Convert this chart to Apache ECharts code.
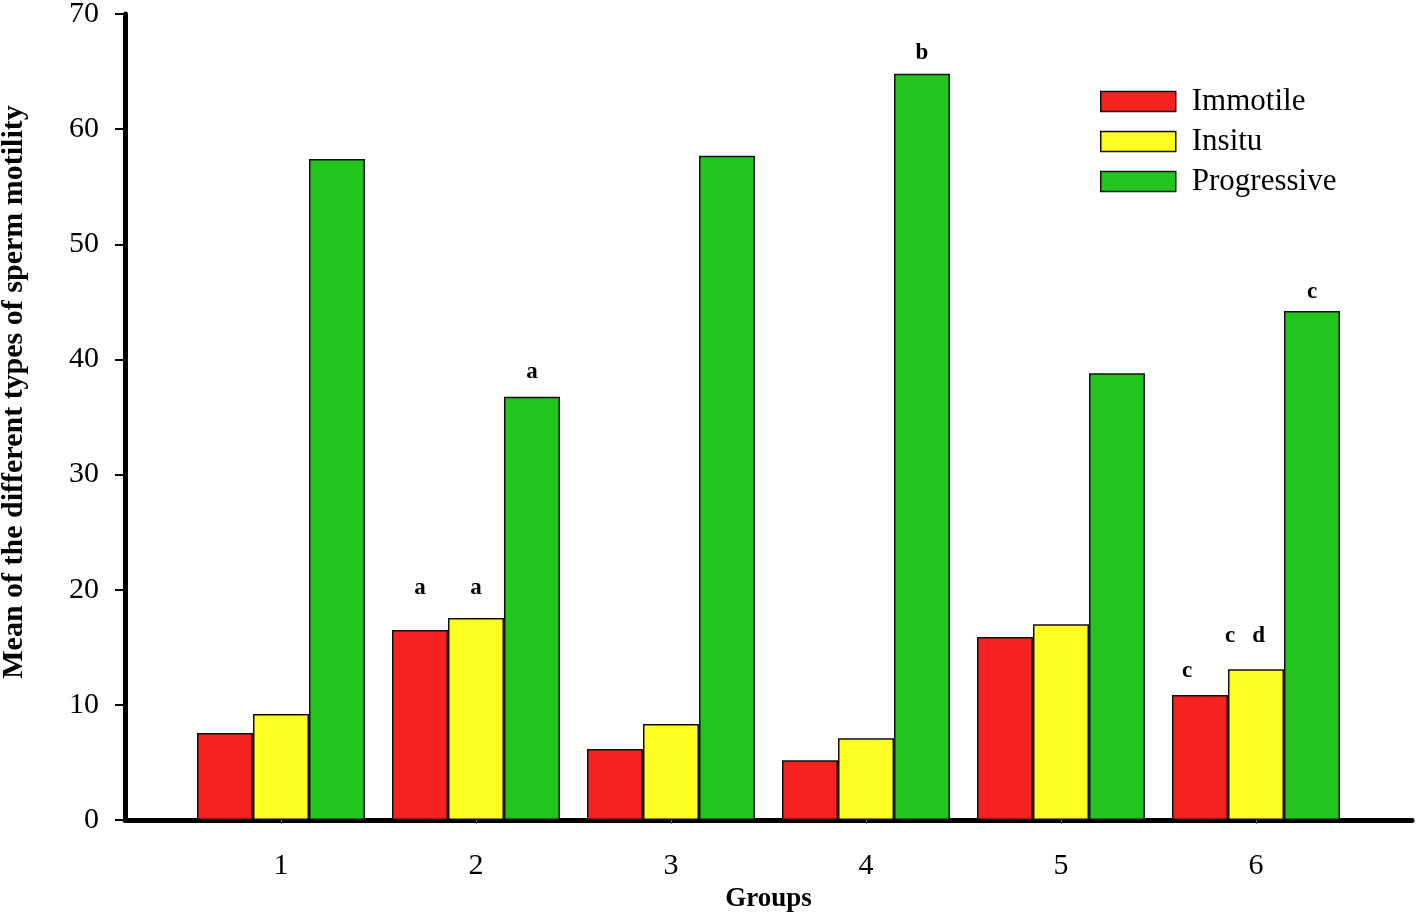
<!DOCTYPE html>
<html>
<head>
<meta charset="utf-8">
<script src="https://cdn.jsdelivr.net/npm/echarts@6/dist/echarts.min.js"></script>
<style>html,body{margin:0;padding:0;background:#fff;}#c{width:1418px;height:916px;}</style>
</head>
<body>
<div id="c"></div>
<script>
const groups = [1, 2, 3, 4, 5, 6];
const immotile = [7.56, 16.5, 6.17, 5.2, 15.9, 10.86];
const insitu = [9.2, 17.55, 8.34, 7.1, 17.0, 13.1];
const progressive = [57.4, 36.75, 57.7, 64.8, 38.8, 44.2];
const immotileMarks = ['', 'a', '', '', '', 'c'];
const insituMarks = ['', 'a', '', '', '', 'c   d'];
const progressiveMarks = ['', 'a', '', 'b', '', 'c'];
const yTicks = [0, 10, 20, 30, 40, 50, 60, 70];

const FONT = '"Liberation Serif", "Times New Roman", serif';
// label offsets (style only)
const immotileOff = [[0,0],[0,-25],[0,0],[0,0],[0,0],[-13,-7]];
const insituOff = [[0,0],[0,-13],[0,0],[0,0],[0,0],[-11,-17]];
const progOff = [[0,0],[0,-8],[0,0],[0,-4],[0,0],[0,-3]];

function build(vals, marks, offs) {
  return vals.map((v, i) => ({
    value: [groups[i], v],
    label: {
      show: marks[i] !== '',
      formatter: marks[i],
      position: 'top',
      offset: offs[i],
      fontFamily: FONT,
      fontWeight: 'bold',
      fontSize: 23,
      color: '#000'
    }
  }));
}

const chart = echarts.init(document.getElementById('c'));
const barBase = {
  type: 'bar',
  barWidth: 56,
  barGap: '0%',
  itemStyle: { borderColor: '#111', borderWidth: 1.5 }
};
chart.setOption({
  animation: false,
  backgroundColor: '#fff',
  grid: { left: 125, right: 6, top: 14, bottom: 96, containLabel: false, outerBoundsMode: 'none' },
  legend: {
    orient: 'vertical',
    left: 1095,
    top: 81,
    itemWidth: 75,
    itemHeight: 20,
    itemGap: 9,
    icon: 'rect',
    textStyle: { fontFamily: FONT, fontSize: 31, color: '#000', padding: [0, 0, 0, 11] },
    itemStyle: { borderColor: '#111', borderWidth: 1.5 },
    data: ['Immotile', 'Insitu', 'Progressive']
  },
  xAxis: {
    type: 'value',
    min: 0.2,
    max: 6.8,
    name: 'Groups',
    nameLocation: 'middle',
    nameGap: 64,
    nameTextStyle: { fontFamily: FONT, fontWeight: 'bold', fontSize: 27, color: '#000' },
    splitLine: { show: false },
    axisLine: { show: true, lineStyle: { color: '#000', width: 5 } },
    axisTick: { show: true, customValues: groups, length: 4, lineStyle: { color: '#666', width: 1 } },
    axisLabel: { customValues: groups, margin: 31, fontFamily: FONT, fontSize: 30, color: '#000' }
  },
  yAxis: {
    type: 'value',
    min: 0,
    max: 70,
    interval: 10,
    name: 'Mean of the different types of sperm motility',
    nameLocation: 'middle',
    nameGap: 96,
    nameTextStyle: { fontFamily: FONT, fontWeight: 'bold', fontSize: 30, color: '#000', padding: [0, 0, 0, 50] },
    splitLine: { show: false },
    axisLine: { show: true, lineStyle: { color: '#000', width: 5 } },
    axisTick: { show: true, length: 10, lineStyle: { color: '#000', width: 2 } },
    axisLabel: { margin: 26, fontFamily: FONT, fontSize: 30, color: '#000', formatter: v => yTicks.includes(v) ? String(v) : '' }
  },
  series: [
    Object.assign({}, barBase, { name: 'Immotile', color: '#F52220', data: build(immotile, immotileMarks, immotileOff) }),
    Object.assign({}, barBase, { name: 'Insitu', color: '#FFFF22', data: build(insitu, insituMarks, insituOff) }),
    Object.assign({}, barBase, { name: 'Progressive', color: '#22C41E', data: build(progressive, progressiveMarks, progOff) })
  ]
});
</script>
</body>
</html>
